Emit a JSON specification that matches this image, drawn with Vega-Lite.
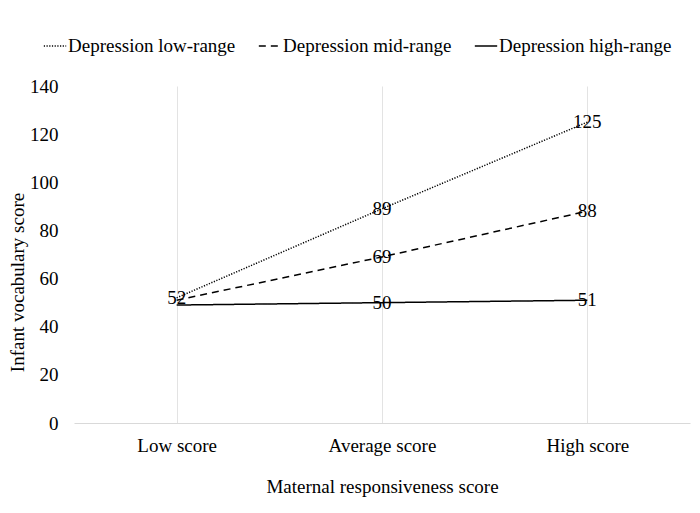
{
  "$schema": "https://vega.github.io/schema/vega-lite/v6.json",
  "autosize": {"type": "none"},
  "padding": {"left": 74, "top": 86, "right": 10, "bottom": 90},
  "width": 616,
  "height": 337,
  "background": "white",
  "config": {
    "font": "Liberation Serif",
    "view": {"stroke": null}
  },
  "data": {
    "values": [
      {"series": "Depression low-range", "x": "Low score", "y": 52},
      {"series": "Depression low-range", "x": "Average score", "y": 89},
      {"series": "Depression low-range", "x": "High score", "y": 125},
      {"series": "Depression mid-range", "x": "Low score", "y": 51},
      {"series": "Depression mid-range", "x": "Average score", "y": 69},
      {"series": "Depression mid-range", "x": "High score", "y": 88},
      {"series": "Depression high-range", "x": "Low score", "y": 49},
      {"series": "Depression high-range", "x": "Average score", "y": 50},
      {"series": "Depression high-range", "x": "High score", "y": 51}
    ]
  },
  "encoding": {
    "x": {
      "field": "x",
      "type": "nominal",
      "sort": ["Low score", "Average score", "High score"],
      "scale": {"type": "point", "padding": 0.5},
      "axis": {
        "title": "Maternal responsiveness score",
        "labelAngle": 0,
        "labelFontSize": 19,
        "labelColor": "black",
        "labelPadding": 13,
        "titleFontSize": 19,
        "titleFontWeight": "normal",
        "titleColor": "black",
        "titlePadding": 22,
        "ticks": false,
        "grid": true,
        "gridColor": "#e3e3e3",
        "domainColor": "#d9d9d9"
      }
    },
    "y": {
      "field": "y",
      "type": "quantitative",
      "scale": {"domain": [0, 140], "nice": false},
      "axis": {
        "title": "Infant vocabulary score",
        "values": [0, 20, 40, 60, 80, 100, 120, 140],
        "labelFontSize": 19,
        "labelColor": "black",
        "labelPadding": 16,
        "titleFontSize": 19,
        "titleFontWeight": "normal",
        "titleColor": "black",
        "titlePadding": 2,
        "titleY": 196,
        "ticks": false,
        "domain": false,
        "grid": false
      }
    }
  },
  "layer": [
    {
      "mark": {"type": "line", "color": "black", "strokeWidth": 1.5},
      "encoding": {
        "strokeDash": {
          "field": "series",
          "type": "nominal",
          "scale": {
            "domain": ["Depression low-range", "Depression mid-range", "Depression high-range"],
            "range": [[1.2, 1.5], [7, 5], [1, 0]]
          },
          "legend": {
            "title": null,
            "orient": "none",
            "direction": "horizontal",
            "legendX": -31,
            "legendY": -52,
            "symbolType": "stroke",
            "symbolSize": 500,
            "symbolStrokeColor": "black",
            "symbolStrokeWidth": 1.5,
            "labelFontSize": 19,
            "labelColor": "black",
            "labelOffset": 1,
            "columnPadding": 19,
            "labelLimit": 300
          }
        }
      }
    },
    {
      "transform": [
        {"filter": "datum.x != 'Low score' || datum.series == 'Depression low-range'"}
      ],
      "mark": {"type": "text", "fontSize": 19, "color": "black", "baseline": "middle", "align": "center"},
      "encoding": {
        "text": {"field": "y", "type": "quantitative"}
      }
    }
  ]
}
